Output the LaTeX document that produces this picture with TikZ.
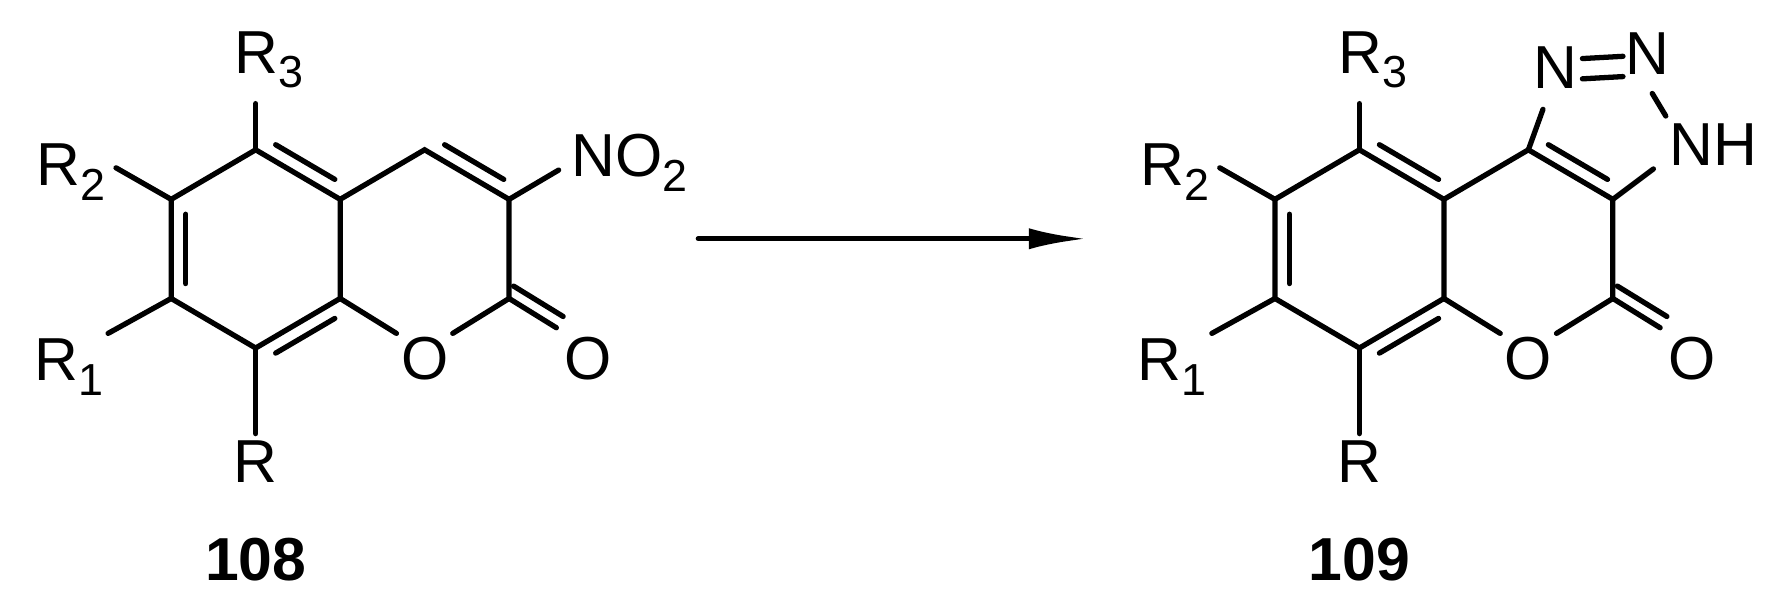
\documentclass[tikz,border=0pt]{standalone}
\usepackage{fontspec}
\setmainfont{Liberation Sans}
\usetikzlibrary{arrows.meta,calc}
\newcommand{\sbs}[1]{{\fontsize{34}{34}\selectfont\raisebox{-11pt}{#1}}}
\begin{document}
\begin{tikzpicture}[x=0.03cm,y=-0.03cm,line width=4pt,line cap=round,
  lab/.style={font=\fontsize{46}{46}\selectfont,inner sep=0pt},
  num/.style={font=\fontsize{46}{46}\selectfont\bfseries,inner sep=0pt}]
\useasboundingbox (0,0) rectangle (1568,531);
\foreach \ox/\m in {0/a,980/b}{
\begin{scope}[xshift=\ox*0.03cm]
\coordinate (\m5) at (227,133); \coordinate (\m4a) at (302,177);
\coordinate (\m8a) at (302,265); \coordinate (\m8) at (227,309);
\coordinate (\m7) at (152,265); \coordinate (\m6) at (152,177);
\coordinate (\m4) at (377,133); \coordinate (\m3) at (452,177);
\coordinate (\m2) at (452,265);
\coordinate (\m1a) at (352,296); \coordinate (\m1b) at (402,296);
\draw (\m5)--(\m4a)--(\m8a)--(\m8)--(\m7)--(\m6)--cycle;
\draw (\m1a)--(\m8a); \draw (\m4a)--(\m4)--(\m3)--(\m2)--(\m1b);
\draw ($(\m6)!0.15!(\m7)+(13,0)$)--($(\m6)!0.85!(\m7)+(13,0)$);
\draw ($(\m5)!0.15!(\m4a)!11pt!90:(\m4a)$)--($(\m5)!0.85!(\m4a)!11pt!90:(\m4a)$);
\draw ($(\m8)!0.15!(\m8a)!11pt!-90:(\m8a)$)--($(\m8)!0.85!(\m8a)!11pt!-90:(\m8a)$);
\draw ($(\m4)!0.15!(\m3)!11pt!90:(\m3)$)--($(\m4)!0.85!(\m3)!11pt!90:(\m3)$);
\node[lab] (\m O) at (377,318) {O};
\node[lab] (\m O2) at (522,318) {O};
\draw (\m2)--(494,291); \draw ($(\m2)+(4,-11)$)--($(494,291)+(6,-10)$);
\node[lab,anchor=base west] (\m R3) at (206,65) {R\sbs{3}};
\draw (\m5)--(227,92);
\node[lab,anchor=base west] (\m R2) at (30,165) {R\sbs{2}};
\draw (\m6)--(103,149);
\node[lab,anchor=base west] (\m R1) at (28,338) {R\sbs{1}};
\draw (\m7)--(96,296);
\draw (\m8)--(227,385);
\node[lab] (\m R) at (227,410) {R};
\end{scope}}
\node[lab,anchor=base west] (no2) at (505,157) {NO\sbs{2}};
\draw (a3)--(496,151);
\node[num] (n108) at (227,497) {108};
\node[num] (n109) at (1207,497) {109};
\draw[-{Latex[length=44pt,width=16pt]}] (620,212)--(965,212);
\node[lab] (N1) at (1381,60) {N};
\node[lab] (N2) at (1463,48) {N};
\node[lab] (NH) at (1521,128) {NH};
\draw (b4)--(1370,97);
\draw (1405,52)--(1441,50); \draw (1405,70)--(1441,68);
\draw (1467,83)--(1479,103);
\draw (b3)--(1468,150);
\end{tikzpicture}
\end{document}
